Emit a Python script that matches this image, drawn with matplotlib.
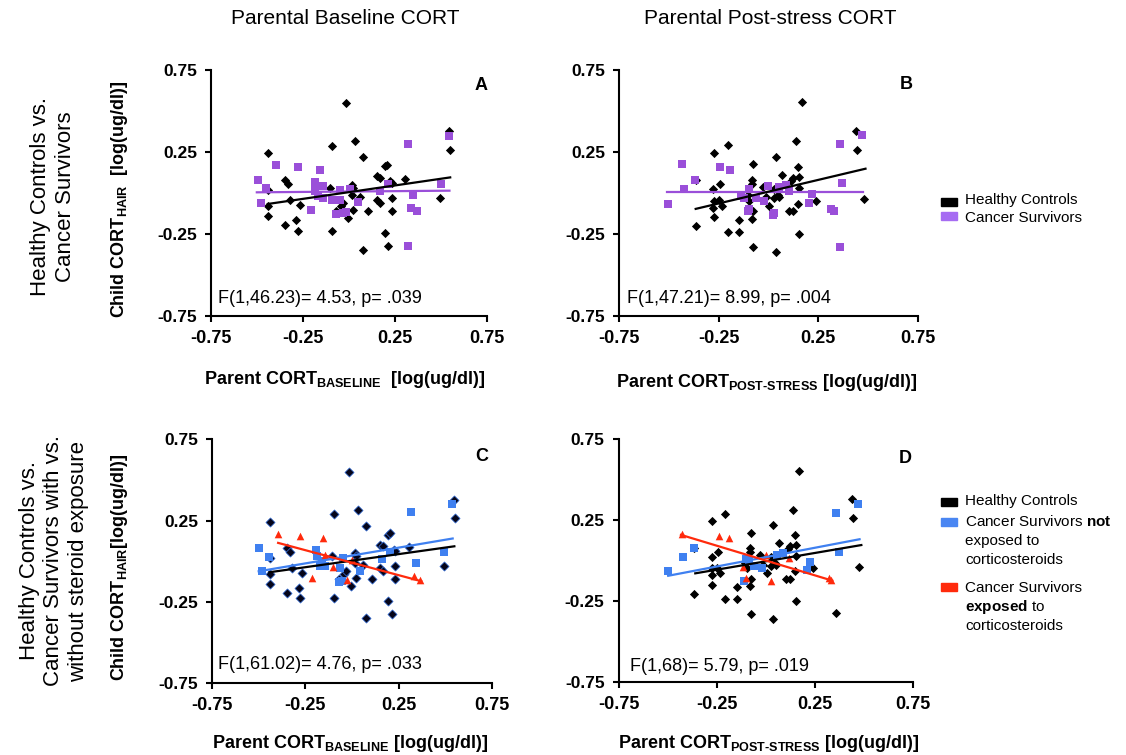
import matplotlib
matplotlib.use("Agg")
import matplotlib.pyplot as plt
from matplotlib.patches import Rectangle

plt.rcParams['font.family'] = ['Liberation Sans', 'DejaVu Sans']
plt.rcParams['mathtext.fontset'] = 'custom'
plt.rcParams['mathtext.rm'] = 'Liberation Sans:bold'
plt.rcParams['mathtext.bf'] = 'Liberation Sans:bold'

# ---- data (log ug/dl) ----
# healthy controls, parental baseline (panels A and C)
hc_base_x = [-0.014, -0.095, 0.032, 0.077, -0.441, 0.546, 0.550, -0.35, -0.332, -0.441,
             -0.105, 0.014, 0.023, 0.15, 0.168, 0.195, 0.205, 0.223, 0.232, 0.304,
             -0.323, -0.441, -0.268, -0.441, -0.35, -0.286, -0.277, -0.095, -0.068, -0.041,
             -0.032, -0.005, 0.023, 0.014, 0.059, 0.105, 0.15, 0.168, 0.232, 0.232,
             0.195, 0.214, 0.077, 0.495]
hc_base_y = [0.551, 0.288, 0.314, 0.219, 0.243, 0.375, 0.264, 0.081, 0.057, 0.020,
             0.030, 0.051, 0.030, 0.101, 0.091, 0.162, 0.172, 0.071, 0.061, 0.087,
             -0.041, -0.081, -0.075, -0.142, -0.197, -0.162, -0.229, -0.229, -0.111, -0.077,
             -0.061, -0.152, -0.105, -0.010, -0.024, -0.107, -0.041, -0.061, -0.030, -0.107,
             -0.243, -0.324, -0.349, -0.030]

# cancer survivors, parental baseline (panel A)
cs_base_x = [-0.495, -0.45, -0.477, -0.395, -0.277, -0.155, -0.205, -0.186, -0.186, -0.186,
             -0.141, -0.168, -0.141, -0.095, -0.05, -0.05, 0.005, -0.068, -0.032, -0.019,
             0.05, 0.168, 0.21, 0.323, 0.346, 0.337, 0.368, 0.323, 0.501, 0.541]
cs_base_y = [0.081, 0.030, -0.061, 0.172, 0.158, 0.142, -0.105, 0.067, 0.040, 0.010,
             0.040, -0.020, -0.030, -0.041, -0.041, 0.020, 0.024, -0.128, -0.122, -0.118,
             -0.057, 0.010, 0.057, 0.300, -0.010, -0.091, -0.111, -0.324, 0.057, 0.349]

# healthy controls, parental post-stress (panels B and D)
hc_post_x = [0.167, 0.440, 0.445, 0.138, -0.205, -0.272, 0.038, -0.076, 0.147, 0.068,
             0.155, 0.122, 0.113, -0.080, -0.080, -0.365, -0.242, -0.276, -0.029, 0.155,
             0.029, 0.046, 0.029, -0.013, -0.105, -0.096, -0.272, -0.247, -0.234, -0.276,
             0.004, 0.054, 0.147, 0.239, 0.477, -0.076, 0.105, 0.125, -0.272, -0.147,
             -0.080, -0.365, -0.205, -0.147, 0.152, -0.076, 0.038]
hc_post_y = [0.556, 0.379, 0.264, 0.315, 0.291, 0.244, 0.219, 0.174, 0.158, 0.107,
             0.097, 0.091, 0.072, 0.081, 0.056, 0.077, 0.052, 0.025, 0.036, 0.032,
             0.025, -0.015, -0.030, -0.026, -0.015, -0.046, -0.046, -0.042, -0.077, -0.091,
             -0.077, -0.026, -0.066, -0.046, -0.036, -0.111, -0.111, -0.111, -0.148, -0.164,
             -0.158, -0.203, -0.236, -0.236, -0.250, -0.332, -0.358]

# cancer survivors, parental post-stress (panel B)
cs_post_x = [-0.432, -0.504, -0.423, -0.368, -0.242, -0.192, -0.138, -0.122, -0.096, -0.105,
             -0.100, -0.063, -0.021, -0.001, 0.021, 0.026, 0.054, 0.088, 0.105, 0.219,
             0.205, 0.316, 0.331, 0.360, 0.370, 0.360, 0.470]
cs_post_y = [0.174, -0.066, 0.025, 0.077, 0.158, 0.142, -0.021, -0.030, 0.025, -0.111,
             -0.097, -0.030, -0.046, 0.040, -0.132, -0.124, 0.036, 0.046, 0.015, -0.009,
             -0.062, -0.097, -0.111, 0.301, 0.060, -0.332, 0.352]

# panel C: survivors not exposed / exposed to corticosteroids (baseline)
c_unexp_x = [-0.50, -0.446, -0.482, -0.191, -0.187, -0.170, -0.143, -0.062, -0.048, -0.071,
             -0.053, 0.045, 0.161, 0.205, 0.316, 0.343, 0.495, 0.536, -0.161]
c_unexp_y = [0.082, 0.027, -0.062, 0.068, 0.035, -0.027, -0.031, -0.041, 0.020, -0.130,
             -0.123, -0.058, 0.014, 0.055, 0.302, -0.010, 0.055, 0.355, 0.0]
c_exp_x = [-0.396, -0.280, -0.157, -0.214, -0.143, -0.102, -0.027, 0.000, 0.330, 0.363]
c_exp_y = [0.170, 0.158, 0.144, -0.103, 0.041, -0.035, -0.117, 0.010, -0.093, -0.117]

# panel D: survivors not exposed / exposed to corticosteroids (post-stress)
d_unexp_x = [-0.497, -0.420, -0.367, -0.100, -0.087, -0.058, -0.019, -0.109, 0.056, 0.087,
             0.211, 0.223, 0.359, 0.373, 0.470]
d_unexp_y = [-0.066, 0.025, 0.076, 0.010, -0.004, -0.031, -0.045, -0.123, 0.037, 0.045,
             -0.058, -0.010, 0.298, 0.055, 0.349]
d_exp_x = [-0.427, -0.236, -0.189, -0.117, -0.100, 0.002, 0.027, 0.121, 0.322, 0.334]
d_exp_y = [0.164, 0.154, 0.140, -0.041, -0.107, 0.037, -0.127, 0.020, -0.109, -0.117]
d_extra_hc_x = [0.359]
d_extra_hc_y = [-0.325]

# fitted lines (end points)
fitA_hc = ([-0.441, 0.550], [-0.067, 0.095])
fitA_cs = ([-0.501, 0.546], [0.004, 0.014])
fitB_hc = ([-0.365, 0.487], [-0.097, 0.148])
fitB_cs = ([-0.507, 0.473], [0.009, 0.009])
fitC_hc = ([-0.443, 0.548], [-0.068, 0.092])
fitC_un = ([-0.500, 0.539], [-0.062, 0.140])
fitC_ex = ([-0.396, 0.370], [0.113, -0.123])
fitD_hc = ([-0.359, 0.487], [-0.078, 0.097])
fitD_un = ([-0.497, 0.478], [-0.093, 0.133])
fitD_ex = ([-0.432, 0.339], [0.160, -0.123])

stats = ['F(1,46.23)= 4.53, p= .039', 'F(1,47.21)= 8.99, p= .004',
         'F(1,61.02)= 4.76, p= .033', 'F(1,68)= 5.79, p= .019']
ticks = [-0.75, -0.25, 0.25, 0.75]
tick_labels = ['-0.75', '-0.25', '0.25', '0.75']

BLACK = '#000000'
PURPLE = '#9a4fd9'
BLUE = '#3f80f0'
RED = '#ff2a0c'

W, H = 1126, 755
fig = plt.figure(figsize=(W / 100, H / 100), dpi=100)


def px(x, y):
    return x / W, 1 - y / H


def setup(ax):
    ax.set_xlim(-0.75, 0.75)
    ax.set_ylim(-0.75, 0.75)
    ax.set_xticks(ticks)
    ax.set_yticks(ticks)
    ax.set_xticklabels(tick_labels, fontweight='bold', fontsize=13)
    ax.set_yticklabels(tick_labels, fontweight='bold', fontsize=12.5)
    for s in ['top', 'right']:
        ax.spines[s].set_visible(False)
    for s in ['left', 'bottom']:
        ax.spines[s].set_linewidth(1.5)
    ax.tick_params(direction='out', length=4, width=1.5, pad=6)
    ax.patch.set_alpha(0)


axA = fig.add_axes([0.1874, 0.5815, 0.2451, 0.3258])
axB = fig.add_axes([0.5497, 0.5815, 0.2655, 0.3258])
axC = fig.add_axes([0.1883, 0.0954, 0.2487, 0.3225])
axD = fig.add_axes([0.5493, 0.0967, 0.2615, 0.3212])

# panel A
axA.scatter(hc_base_x, hc_base_y, marker='D', s=22, color=BLACK, lw=0)
axA.scatter(cs_base_x, cs_base_y, marker='s', s=26, color=PURPLE, lw=0)
axA.plot(*fitA_cs, color=PURPLE, lw=1.6)
axA.plot(*fitA_hc, color=BLACK, lw=1.6)

# panel B
axB.scatter(hc_post_x, hc_post_y, marker='D', s=22, color=BLACK, lw=0)
axB.scatter(cs_post_x, cs_post_y, marker='s', s=26, color=PURPLE, lw=0)
axB.plot(*fitB_cs, color=PURPLE, lw=1.6)
axB.plot(*fitB_hc, color=BLACK, lw=1.6)

# panel C
axC.scatter(hc_base_x, hc_base_y, marker='D', s=22, facecolor='#05051a',
            edgecolor='#3a74e0', lw=0.5)
axC.scatter(c_unexp_x, c_unexp_y, marker='s', s=26, color=BLUE, lw=0)
axC.scatter(c_exp_x, c_exp_y, marker='^', s=30, color=RED, lw=0)
axC.plot(*fitC_hc, color=BLACK, lw=1.6)
axC.plot(*fitC_un, color=BLUE, lw=1.6)
axC.plot(*fitC_ex, color=RED, lw=1.6)

# panel D
axD.scatter(hc_post_x + d_extra_hc_x, hc_post_y + d_extra_hc_y, marker='D', s=22,
            color=BLACK, lw=0)
axD.scatter(d_unexp_x, d_unexp_y, marker='s', s=26, color=BLUE, lw=0)
axD.scatter(d_exp_x, d_exp_y, marker='^', s=30, color=RED, lw=0)
axD.plot(*fitD_hc, color=BLACK, lw=1.6)
axD.plot(*fitD_un, color=BLUE, lw=1.6)
axD.plot(*fitD_ex, color=RED, lw=1.6)

for ax in [axA, axB, axC, axD]:
    setup(ax)

letter_pos = [(0.978, 0.935), (0.96, 0.939), (0.964, 0.93), (0.975, 0.92)]
stat_pos = [(0.025, 0.073), (0.027, 0.073), (0.021, 0.074), (0.039, 0.062)]
for ax, letter, lp, st, sp in zip([axA, axB, axC, axD], 'ABCD', letter_pos, stats, stat_pos):
    ax.text(*lp, letter, transform=ax.transAxes, ha='center', va='center',
            fontweight='bold', fontsize=13)
    ax.text(*sp, st, transform=ax.transAxes, ha='left', va='center', fontsize=13)

# column titles
fig.text(*px(345, 18), 'Parental Baseline CORT', ha='center', va='center', fontsize=15)
fig.text(*px(770, 18), 'Parental Post-stress CORT', ha='center', va='center', fontsize=15)

# row labels
fig.text(*px(53, 197), 'Healthy Controls vs.\nCancer Survivors', rotation=90,
         ha='center', va='center', multialignment='center', fontsize=16, linespacing=1.2)
fig.text(*px(54, 561), 'Healthy Controls vs.\nCancer Survivors with vs.\nwithout steroid exposure',
         rotation=90, ha='center', va='center', multialignment='center', fontsize=16,
         linespacing=1.2)

# axis labels
post = r'$_{\mathbf{POST}\text{-}\mathbf{STRESS}}$'
ylab1 = r'Child CORT$_{\mathbf{HAIR}}$  [log(ug/dl)]'
ylab2 = r'Child CORT$_{\mathbf{HAIR}}$[log(ug/dl)]'
fig.text(*px(119, 199), ylab1, rotation=90, ha='center', va='center',
         fontweight='bold', fontsize=13)
fig.text(*px(120, 567), ylab2, rotation=90, ha='center', va='center',
         fontweight='bold', fontsize=13)
fig.text(*px(345, 380), r'Parent CORT$_{\mathbf{BASELINE}}$  [log(ug/dl)]',
         ha='center', va='center', fontweight='bold', fontsize=13)
fig.text(*px(767, 383), 'Parent CORT' + post + ' [log(ug/dl)]',
         ha='center', va='center', fontweight='bold', fontsize=13)
fig.text(*px(350, 743), r'Parent CORT$_{\mathbf{BASELINE}}$ [log(ug/dl)]',
         ha='center', va='center', fontweight='bold', fontsize=13)
fig.text(*px(769, 743), 'Parent CORT' + post + ' [log(ug/dl)]',
         ha='center', va='center', fontweight='bold', fontsize=13)


# legends
def swatch(x, y, color):
    fig.patches.append(Rectangle(px(x, y + 8), 16 / W, 8 / H, color=color,
                                 transform=fig.transFigure, figure=fig))


swatch(941, 198, BLACK)
swatch(941, 212, '#a66cf2')
fig.text(*px(965, 200), 'Healthy Controls', va='center', fontsize=11)
fig.text(*px(965, 218), 'Cancer Survivors', va='center', fontsize=11)

swatch(941, 498, BLACK)
swatch(941, 518, '#4a86f2')
swatch(941, 583, RED)
lines = [(501, 'Healthy Controls'), (521, r'Cancer Survivors $\mathbf{not}$'),
         (541, 'exposed to'), (560, 'corticosteroids'), (588, 'Cancer Survivors'),
         (607, r'$\mathbf{exposed}$ to'), (626, 'corticosteroids')]
for y, t in lines:
    fig.text(*px(965, y), t, va='center', fontsize=11)

fig.savefig('out.png', dpi=100)
